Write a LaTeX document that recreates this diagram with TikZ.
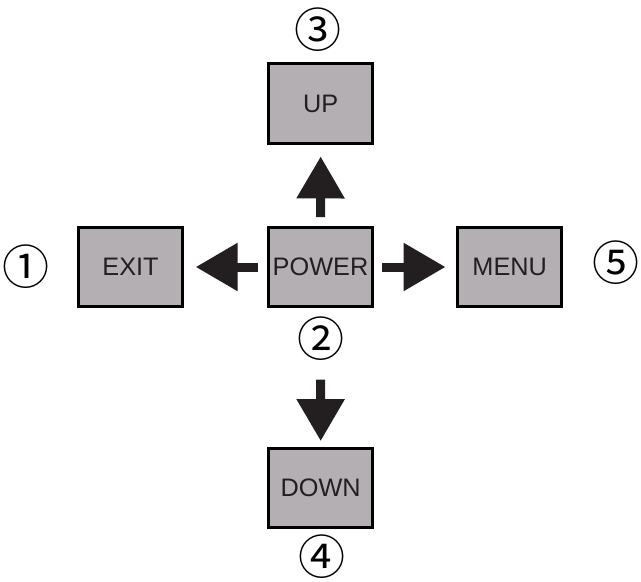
\documentclass[tikz,border=0pt]{standalone}
\usepackage{fontspec}
\setmainfont{Liberation Sans}
\newfontfamily\circfont{Noto Sans CJK JP}
\usetikzlibrary{arrows.meta}
\definecolor{boxgray}{RGB}{180,175,178}
\definecolor{inkdark}{RGB}{35,31,32}
\tikzset{
  keybox/.style={draw=black, fill=boxgray, line width=3bp, minimum width=104bp,
    minimum height=79.5bp, inner sep=0pt, text=inkdark,
    font=\fontsize{25.3bp}{28bp}\selectfont},
  circnum/.style={inner sep=0pt, text=black, font=\circfont\fontsize{47bp}{50bp}\selectfont},
  blockarrow/.style={draw=inkdark, line width=9bp, -{Triangle[width=46bp,length=42bp]}}
}
\begin{document}
\begin{tikzpicture}[x=1bp,y=-1bp]
\useasboundingbox (0,0) rectangle (641,582);
\node[keybox] (up) at (320.7,103.5) {UP};
\node[keybox] (exit) at (130.5,267) {EXIT};
\node[keybox] (power) at (320.5,267) {POWER};
\node[keybox] (menu) at (509.7,267) {MENU};
\node[keybox] (down) at (320.7,488) {DOWN};
\node[circnum] (n1) at (26,267) {①};
\node[circnum] (n2) at (320.8,338.7) {②};
\node[circnum] (n3) at (318,30) {③};
\node[circnum] (n4) at (322,556.5) {④};
\node[circnum] (n5) at (616,263) {⑤};
\draw[blockarrow, shorten <=8.7bp, shorten >=11.7bp] (power.north) -- (up.south);
\draw[blockarrow, shorten <=71.3bp, shorten >=5.7bp] (power.south) -- (down.north);
\draw[blockarrow, shorten <=9bp, shorten >=11.7bp] (power.west) -- (exit.east);
\draw[blockarrow, shorten <=8bp, shorten >=10.7bp] (power.east) -- (menu.west);
\end{tikzpicture}
\end{document}
